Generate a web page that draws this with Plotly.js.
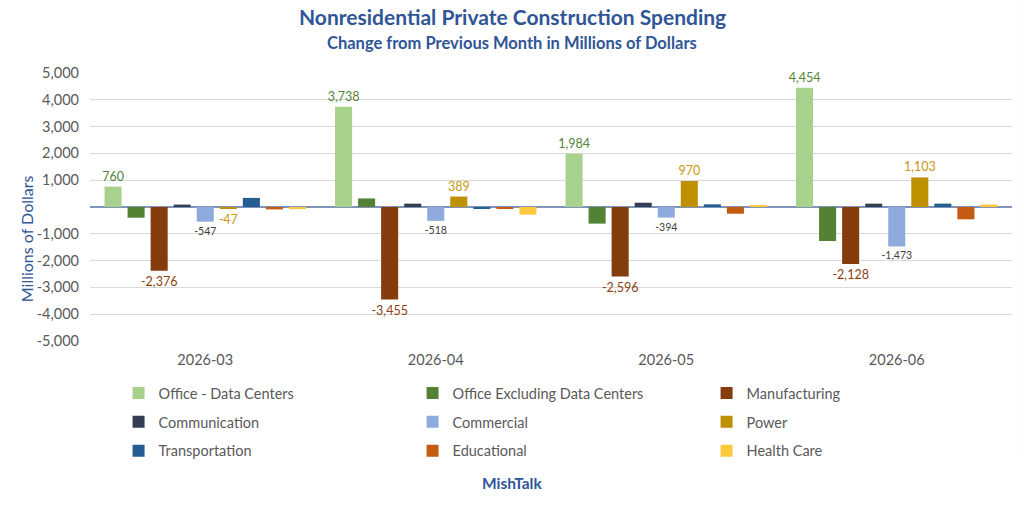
<!DOCTYPE html>
<html>
<head>
<meta charset="utf-8">
<script src="https://cdn.plot.ly/plotly-3.0.1.min.js"></script>
<style>
  html, body { margin: 0; padding: 0; background: #fff; }
  #chart { width: 1024px; height: 522px; }
</style>
</head>
<body>
<div id="chart"></div>
<script>
// months on the x axis
const months = ['2026-03', '2026-04', '2026-05', '2026-06'];

// change from previous month, millions of dollars
const officeDataCenters = [760, 3738, 1984, 4454];
const officeExDataCenters = [-400, 320, -620, -1270];
const manufacturing = [-2376, -3455, -2596, -2128];
const communication = [90, 125, 160, 125];
const commercial = [-547, -518, -394, -1473];
const power = [-47, 389, 970, 1103];
const transportation = [340, -75, 100, 125];
const educational = [-90, -40, -250, -460];
const healthCare = [-80, -285, 60, 90];

const yTickVals = [5000, 4000, 3000, 2000, 1000, 0, -1000, -2000, -3000, -4000, -5000];
const yTickText = ['5,000', '4,000', '3,000', '2,000', '1,000', '', '-1,000', '-2,000', '-3,000', '-4,000', '-5,000'];

const FONT = 'Lato, "Open Sans", sans-serif';
const BLUE = '#2f5597';

function series(name, values, color, legendId, label) {
  const t = {
    type: 'bar',
    name: name,
    x: months,
    y: values,
    marker: { color: color },
    legend: legendId,
    cliponaxis: false,
    hoverinfo: 'x+y+name'
  };
  if (label) {
    t.texttemplate = '%{y:,}';
    t.textposition = 'outside';
    t.constraintext = 'none';
    t.textfont = { family: FONT, size: label.size, color: label.color };
  }
  return t;
}

const traces = [
  series('Office - Data Centers', officeDataCenters, '#a9d18e', 'legend', { color: '#548235', size: 12.5 }),
  series('Office Excluding Data Centers', officeExDataCenters, '#548235', 'legend'),
  series('Manufacturing', manufacturing, '#843c0c', 'legend', { color: '#8a3f12', size: 12.5 }),
  series('Communication', communication, '#333f50', 'legend2'),
  series('Commercial', commercial, '#8faadc', 'legend2', { color: '#404040', size: 10.5 }),
  series('Power', power, '#bf9000', 'legend2', { color: '#c89a10', size: 12.5 }),
  series('Transportation', transportation, '#255e91', 'legend3'),
  series('Educational', educational, '#c55a11', 'legend3'),
  series('Health Care', healthCare, '#ffc83d', 'legend3')
];

// one legend per row so the rows sit as far apart as in the original
function legendRow(y) {
  return {
    orientation: 'h',
    x: 0.031,
    xanchor: 'left',
    y: y,
    yanchor: 'middle',
    entrywidth: 249,
    entrywidthmode: 'pixels',
    itemwidth: 30,
    bgcolor: 'rgba(0,0,0,0)',
    font: { family: FONT, size: 14.5, color: '#595959' }
  };
}

const layout = {
  width: 1024,
  height: 522,
  paper_bgcolor: '#ffffff',
  plot_bgcolor: '#ffffff',
  font: { family: FONT, color: '#595959' },
  margin: { t: 73, l: 90, r: 12, b: 181 },
  barmode: 'group',
  bargap: 0.1,
  bargroupgap: 0.26,
  showlegend: true,
  xaxis: {
    type: 'category',
    range: [-0.5, 3.5],
    showgrid: false,
    showline: false,
    ticks: '',
    tickfont: { family: FONT, size: 14.5, color: '#595959' },
    ticklabelstandoff: 8
  },
  yaxis: {
    range: [-5000, 5000],
    tickvals: yTickVals,
    ticktext: yTickText,
    showgrid: true,
    gridcolor: '#d9d9d9',
    gridwidth: 1,
    zeroline: true,
    zerolinecolor: '#7f94b8',
    zerolinewidth: 1.5,
    ticks: '',
    tickfont: { family: FONT, size: 14.5, color: '#595959' },
    ticklabelstandoff: 10
  },
  legend: legendRow(-0.194),
  legend2: legendRow(-0.302),
  legend3: legendRow(-0.41),
  annotations: [
    {
      text: '<b>Nonresidential Private Construction Spending</b>',
      xref: 'paper', yref: 'paper',
      x: 0.458, y: 1.209,
      xanchor: 'center', yanchor: 'middle',
      showarrow: false,
      font: { family: FONT, size: 21, color: BLUE }
    },
    {
      text: '<b>Change from Previous Month in Millions of Dollars</b>',
      xref: 'paper', yref: 'paper',
      x: 0.458, y: 1.112,
      xanchor: 'center', yanchor: 'middle',
      showarrow: false,
      font: { family: FONT, size: 16.5, color: BLUE }
    },
    {
      text: 'Millions of Dollars',
      xref: 'paper', yref: 'paper',
      x: -0.068, y: 0.381,
      xanchor: 'center', yanchor: 'middle',
      textangle: -90,
      showarrow: false,
      font: { family: FONT, size: 16, color: BLUE }
    },
    {
      text: '<b>MishTalk</b>',
      xref: 'paper', yref: 'paper',
      x: 0.458, y: -0.53,
      xanchor: 'center', yanchor: 'middle',
      showarrow: false,
      font: { family: FONT, size: 15.5, color: BLUE }
    }
  ],
  shapes: [{
    type: 'line',
    xref: 'paper',
    yref: 'paper',
    x0: 1.0135,
    x1: 1.0135,
    y0: 1.27,
    y1: -0.44,
    line: { color: '#d9d9d9', width: 1 }
  }]
};

const config = { displayModeBar: false, responsive: false };

Plotly.newPlot('chart', traces, layout, config);
</script>
</body>
</html>
